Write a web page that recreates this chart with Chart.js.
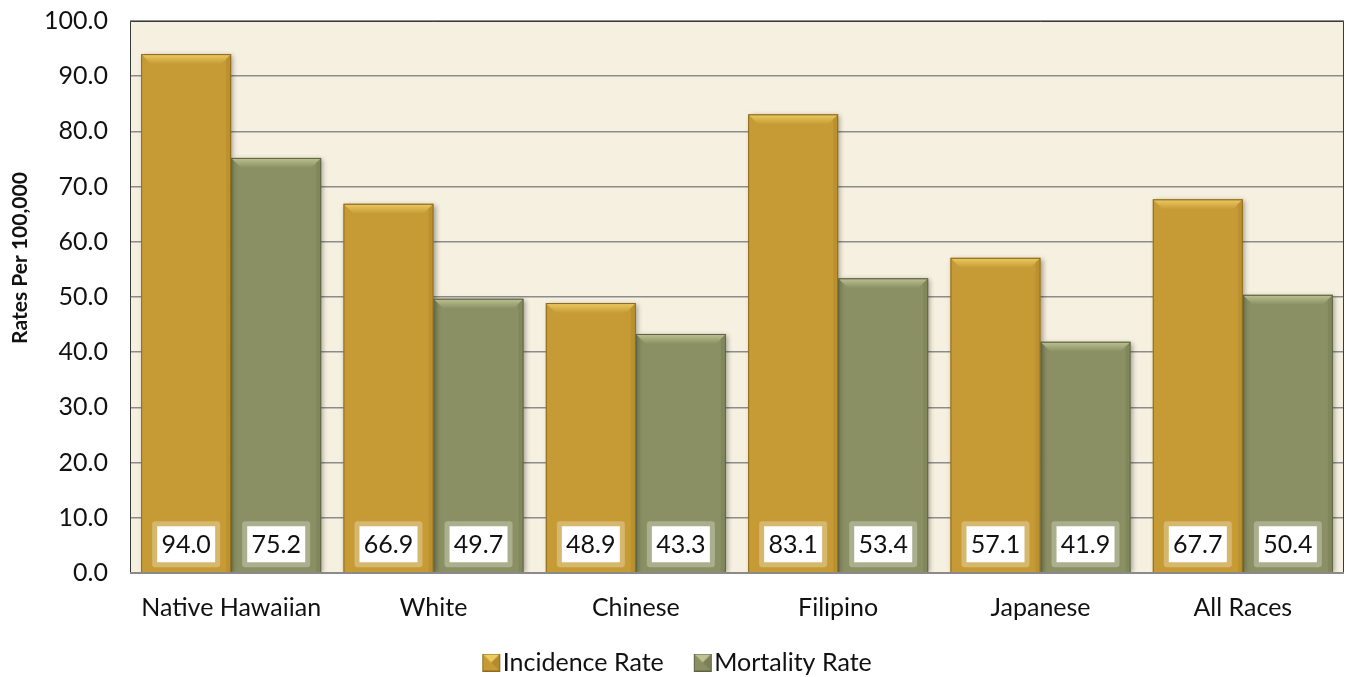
<!DOCTYPE html>
<html>
<head>
<meta charset="utf-8">
<script src="https://cdn.jsdelivr.net/npm/chart.js@4/dist/chart.umd.min.js"></script>
<style>
  html, body { margin: 0; padding: 0; background: #fff; }
  #wrap { width: 1346px; height: 677px; }
</style>
</head>
<body>
<div id="wrap"><canvas id="rateChart"></canvas></div>
<script>
// data
var categories = ['Native Hawaiian', 'White', 'Chinese', 'Filipino', 'Japanese', 'All Races'];
var incidence = [94.0, 66.9, 48.9, 83.1, 57.1, 67.7];
var mortality = [75.2, 49.7, 43.3, 53.4, 41.9, 50.4];
var yTicks = [0, 10, 20, 30, 40, 50, 60, 70, 80, 90, 100];
var yTitle = 'Rates Per 100,000';

var FONT = 'Lato';
var gold = { base: '#C69B36', light: '#EDCB62', dark: '#8E6A1C', side: '#B48A2C' };
var olive = { base: '#8A9063', light: '#BEC394', dark: '#5E6442', side: '#7C8257' };

// little bevelled square for the legend (sits on the right of a wider transparent canvas
// so it ends up close to its text)
function legendBox(c) {
  var cv = document.createElement('canvas');
  cv.width = 40; cv.height = 18;
  var g = cv.getContext('2d');
  g.translate(21, 0);
  g.fillStyle = c.base; g.fillRect(0, 0, 18, 18);
  g.fillStyle = c.light;
  g.beginPath(); g.moveTo(0, 0); g.lineTo(18, 0); g.lineTo(9, 9); g.closePath(); g.fill();
  g.fillStyle = c.dark;
  g.beginPath(); g.moveTo(18, 0); g.lineTo(18, 18); g.lineTo(9, 9); g.closePath(); g.globalAlpha = 0.35; g.fill();
  g.globalAlpha = 1;
  g.strokeStyle = c.dark; g.lineWidth = 1; g.strokeRect(0.5, 0.5, 17, 17);
  return cv;
}

var plotBg = {
  id: 'plotBg',
  beforeDraw: function(chart) {
    var a = chart.chartArea, ctx = chart.ctx;
    ctx.save();
    ctx.fillStyle = '#F6F0E0';
    ctx.fillRect(a.left, a.top, a.right - a.left, a.bottom - a.top);
    ctx.restore();
  },
  afterDraw: function(chart) {
    var a = chart.chartArea, ctx = chart.ctx;
    ctx.save();
    ctx.strokeStyle = '#3a3a3a';
    ctx.lineWidth = 1;
    ctx.beginPath();
    ctx.moveTo(a.left + 0.5, a.bottom);
    ctx.lineTo(a.left + 0.5, a.top + 0.5);
    ctx.lineTo(a.right - 0.5, a.top + 0.5);
    ctx.lineTo(a.right - 0.5, a.bottom);
    ctx.stroke();
    ctx.strokeStyle = '#8a8a8a';
    ctx.lineWidth = 2;
    ctx.beginPath();
    ctx.moveTo(a.left, a.bottom);
    ctx.lineTo(a.right, a.bottom);
    ctx.stroke();
    // axis title, sits a bit above the middle like the original
    ctx.translate(20, 258);
    ctx.rotate(-Math.PI / 2);
    ctx.font = 'bold 21px ' + FONT;
    ctx.fillStyle = '#111';
    ctx.textAlign = 'center';
    ctx.textBaseline = 'middle';
    ctx.fillText(yTitle, 0, 0);
    ctx.restore();
  }
};

var bevel = {
  id: 'bevel',
  beforeDatasetsDraw: function(chart) {
    var ctx = chart.ctx;
    ctx.save();
    ctx.shadowColor = 'rgba(0,0,0,0.35)';
    ctx.shadowBlur = 5;
    ctx.shadowOffsetX = 2;
    ctx.shadowOffsetY = 1;
  },
  afterDatasetsDraw: function(chart) {
    var ctx = chart.ctx;
    ctx.restore();
    var cols = [gold, olive];
    var b = 10;
    ctx.save();
    chart.data.datasets.forEach(function(ds, di) {
      var c = cols[di];
      chart.getDatasetMeta(di).data.forEach(function(bar, i) {
        var l = bar.x - bar.width / 2, r = bar.x + bar.width / 2, t = bar.y, bt = bar.base;
        // top bevel
        var gr = ctx.createLinearGradient(0, t, 0, t + b);
        gr.addColorStop(0, c.light);
        gr.addColorStop(1, c.base);
        ctx.fillStyle = gr;
        ctx.beginPath();
        ctx.moveTo(l + 1, t + 1); ctx.lineTo(r - 1, t + 1); ctx.lineTo(r - b, t + b); ctx.lineTo(l + b, t + b);
        ctx.closePath(); ctx.fill();
        // right side darker
        ctx.fillStyle = c.side;
        ctx.globalAlpha = 0.6;
        ctx.beginPath();
        ctx.moveTo(r - 1, t + 1); ctx.lineTo(r - 1, bt); ctx.lineTo(r - 5, bt); ctx.lineTo(r - 5, t + 5);
        ctx.closePath(); ctx.fill();
        ctx.globalAlpha = 1;
        // outline
        ctx.strokeStyle = c.dark;
        ctx.lineWidth = 1;
        ctx.strokeRect(l + 0.5, t + 0.5, r - l - 1, bt - t);

        // value box at the bottom of the bar
        var cy = bt - 28;
        ctx.fillStyle = 'rgba(255,255,255,0.28)';
        ctx.beginPath();
        ctx.roundRect(bar.x - 34, cy - 23, 68, 46, 3);
        ctx.fill();
        ctx.fillStyle = '#ffffff';
        ctx.fillRect(bar.x - 29, cy - 18, 58, 36);
        ctx.fillStyle = '#111';
        ctx.font = '25px ' + FONT;
        ctx.textAlign = 'center';
        ctx.textBaseline = 'middle';
        ctx.fillText(ds.data[i].toFixed(1), bar.x, cy + 1);
      });
    });
    ctx.restore();
  }
};

var ctx = document.getElementById('rateChart').getContext('2d');
var rateChart = new Chart(ctx, {
  type: 'bar',
  data: {
    labels: categories,
    datasets: [{
      label: 'Incidence Rate',
      data: incidence,
      backgroundColor: gold.base,
      borderWidth: 0,
      pointStyle: legendBox(gold)
    }, {
      label: 'Mortality Rate',
      data: mortality,
      backgroundColor: olive.base,
      borderWidth: 0,
      pointStyle: legendBox(olive)
    }]
  },
  options: {
    responsive: true,
    maintainAspectRatio: false,
    animation: false,
    layout: { padding: { top: 21, right: 2, left: 0, bottom: -8 } },
    datasets: { bar: { barPercentage: 1.0, categoryPercentage: 0.89 } },
    plugins: {
      legend: {
        position: 'bottom',
        labels: {
          usePointStyle: true,
          font: { family: FONT, size: 25 },
          color: '#111',
          padding: 20,
          boxWidth: 18,
          boxHeight: 18
        }
      },
      tooltip: { enabled: false }
    },
    scales: {
      x: {
        grid: { display: false },
        border: { display: false },
        ticks: { font: { family: FONT, size: 25 }, color: '#111', padding: 12 },
        afterFit: function(s) { s.height = 57; s.paddingLeft = 0; s.paddingRight = 0; }
      },
      y: {
        min: 0, max: 100,
        afterBuildTicks: function(s) { s.ticks = yTicks.map(function(v) { return { value: v }; }); },
        ticks: {
          font: { family: FONT, size: 25 },
          color: '#111',
          padding: 22,
          callback: function(v) { return v.toFixed(1); }
        },
        grid: { color: '#8c8c8c', lineWidth: 1.5, drawTicks: false },
        border: { display: false },
        afterFit: function(s) { s.width = 130; s.paddingTop = 0; s.paddingBottom = 0; }
      }
    }
  },
  plugins: [plotBg, bevel]
});
</script>
</body>
</html>
